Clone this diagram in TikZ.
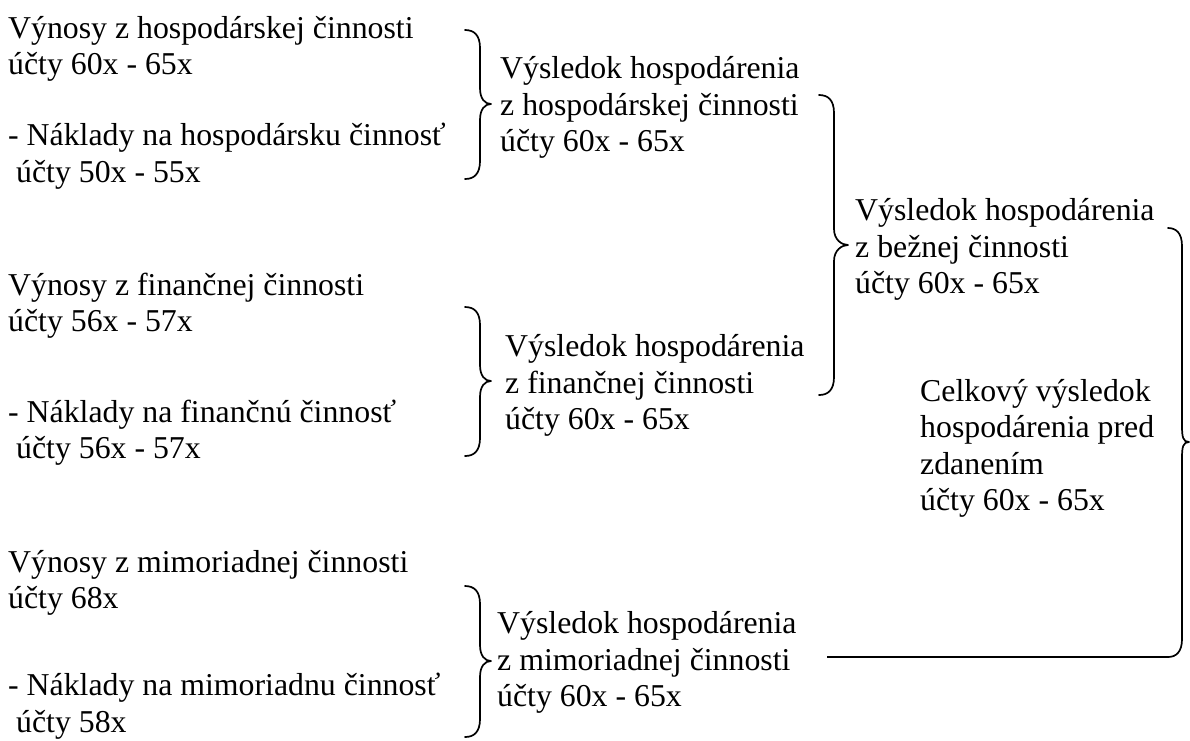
\documentclass[tikz,border=0pt]{standalone}
\usepackage{fontspec}
\setmainfont{Liberation Serif}
% curly brace opening to the left, tip pointing right
% #1 end x, #2 shank x, #3 tip x, #4 top y, #5 tip y, #6 bottom y
\newcommand{\rightcurly}[6]{%
  \draw[bracestyle] (#1,#4) .. controls (#2-6,#4) and (#2,#4+5) .. (#2,#4+18)
    -- (#2,#5-16) .. controls (#2,#5-5) and (#3-6,#5) .. (#3,#5)
    .. controls (#3-6,#5) and (#2,#5+5) .. (#2,#5+16)
    -- (#2,#6-18) .. controls (#2,#6-5) and (#2-6,#6) .. (#1,#6);}
\begin{document}
\begin{tikzpicture}[x=1pt,y=-1pt,
  txt/.style={anchor=base west, inner sep=0pt, align=left,
              font=\fontsize{31.8}{36.5}\selectfont},
  bracestyle/.style={line width=1.7pt, line cap=round, line join=round},
  link/.style={line width=1.7pt}]
\useasboundingbox (0,0) rectangle (1190,740);

% revenue and cost items (positions give the baseline of the last line)
\node[txt] (v1) at (8,74.5)  {Výnosy z hospodárskej činnosti\\účty 60x - 65x};
\node[txt] (n1) at (8,182)   {- Náklady na hospodársku činnosť\\\hspace*{.25em}účty 50x - 55x};
\node[txt] (v2) at (8,331.5) {Výnosy z finančnej činnosti\\účty 56x - 57x};
\node[txt] (n2) at (8,458.5) {- Náklady na finančnú činnosť\\\hspace*{.25em}účty 56x - 57x};
\node[txt] (v3) at (8,608.5) {Výnosy z mimoriadnej činnosti\\účty 68x};
\node[txt] (n3) at (8,732)   {- Náklady na mimoriadnu činnosť\\\hspace*{.25em}účty 58x};

% partial results
\node[txt] (r1) at (500,151.5) {Výsledok hospodárenia\\z hospodárskej činnosti\\účty 60x - 65x};
\node[txt] (r2) at (505,429.5) {Výsledok hospodárenia\\z finančnej činnosti\\účty 60x - 65x};
\node[txt] (r3) at (497,706.5) {Výsledok hospodárenia\\z mimoriadnej činnosti\\účty 60x - 65x};
\node[txt] (rb) at (855,293.5) {Výsledok hospodárenia\\z bežnej činnosti\\účty 60x - 65x};
\node[txt] (rc) at (920,510.5) {Celkový výsledok\\hospodárenia pred\\zdanením\\účty 60x - 65x};

% braces
\rightcurly{465}{480}{491}{30}{104}{179}
\rightcurly{465}{480}{491}{307}{381}{456}
\rightcurly{465}{480}{491}{586}{661}{737}
\rightcurly{819}{834}{848}{95}{245}{395}
\rightcurly{1168}{1182}{1189}{228}{442}{657}

% extraordinary result joins the total brace
\coordinate (b3start) at (827,657);
\coordinate (b3end) at (1168,657);
\draw[link] (b3start) -- (b3end);
\end{tikzpicture}
\end{document}
